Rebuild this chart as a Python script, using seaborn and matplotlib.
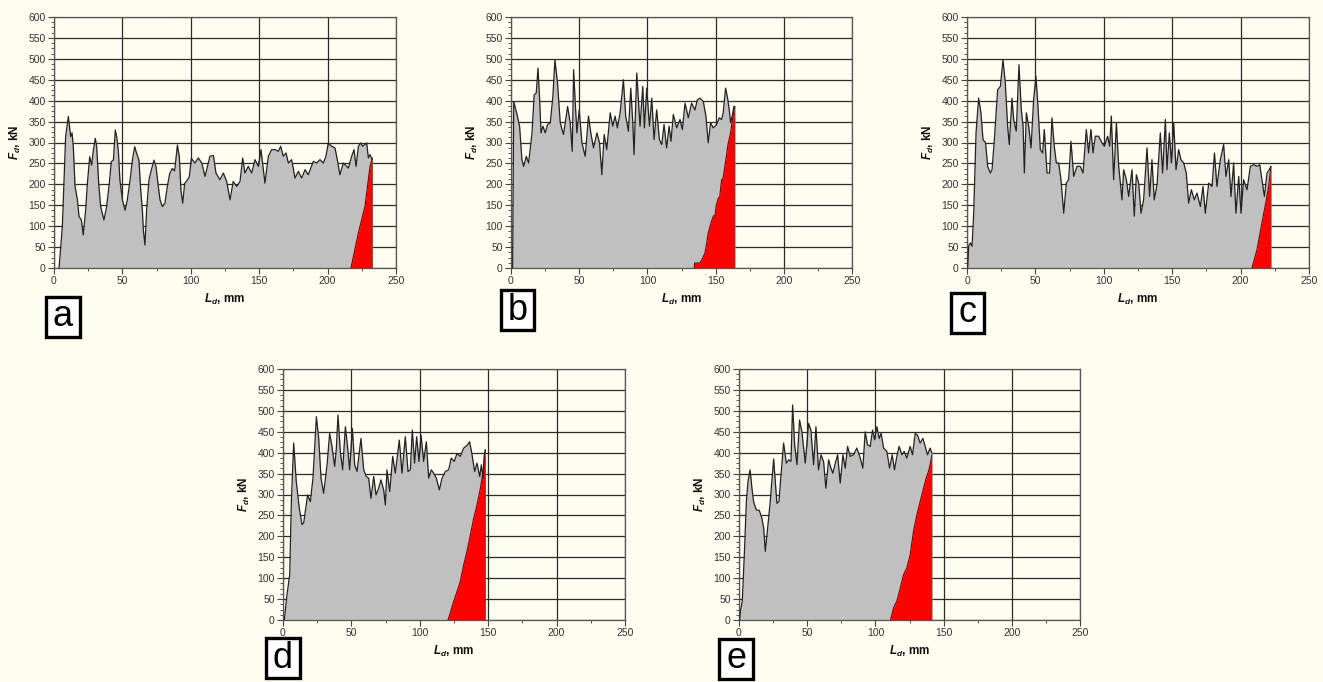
import numpy as np
import pandas as pd
import matplotlib
matplotlib.use("Agg")
import matplotlib.pyplot as plt
from matplotlib.patches import Rectangle
from matplotlib.ticker import MultipleLocator
import seaborn as sns

# ---------------- data ----------------
a_x = [3.7, 6.1, 8.5, 10.5, 12.2, 13.2, 14.1, 15.4, 17.1, 18.3, 20, 21.4, 23.1, 24.4, 26.1, 27.5, 28.8, 30.2,
       31.2, 32.7, 34.1, 36.5, 38.5, 40.4, 41.9, 43.4, 44.8, 45.8, 47, 48.2, 50, 51.9, 53.6, 55.6, 57.3, 59,
       60.4, 62.1, 63.4, 64.6, 65.3, 66.5, 67.7, 69.4, 71.1, 73.1, 74.6, 76, 77.5, 79.2, 81.1, 82.8, 84.6,
       86.5, 88.2, 90.2, 91.6, 92.8, 94.1, 95.5, 97.5, 98.9, 100.4, 103, 105.5, 108, 110.4, 114, 116.5,
       118.4, 121.3, 123.8, 126.2, 128.7, 131, 133.5, 136, 137.9, 139.6, 142, 144.5, 146.9, 149.4, 151.3,
       154.2, 156.7, 159.1, 161.5, 164, 165.7, 167.6, 169.6, 171.3, 173.7, 176.2, 178.6, 181, 183.5, 185.9,
       189.6, 192, 194.4, 196.9, 198.8, 200.5, 203, 205.4, 207.1, 209, 211.5, 215.2, 217.6, 219.3, 220.8,
       222.5, 224.2, 225.6, 227.3, 228.6, 229.8, 231, 232.7]
a_y = [0, 99, 314, 362, 314, 323, 290, 195, 163, 123, 115, 79, 138, 202, 266, 246, 282, 310,
       290, 202, 147, 115, 147, 202, 254, 258, 330, 314, 282, 210, 163, 138, 163, 210, 258, 290,
       274, 258, 186, 138, 91, 55, 138, 210, 234, 258, 242, 202, 163, 147, 155, 194, 226,
       238, 232, 294, 266, 186, 155, 202, 210, 218, 262, 251, 263, 251, 219, 267, 269,
       227, 211, 227, 207, 163, 207, 195, 207, 263, 227, 243, 227, 259, 243, 283,
       203, 267, 283, 283, 279, 291, 267, 275, 251, 259, 215, 231, 215, 235, 223,
       255, 251, 259, 251, 267, 299, 291, 287, 259, 223, 251, 239, 267, 283, 243,
       291, 299, 291, 295, 299, 263, 271, 259]
a_red_x = [217.1, 222.5, 227.3, 231, 232.7]
a_red_y = [0, 84, 147, 243, 263]

b_x = [1.2, 2, 4.4, 6.3, 8, 9.3, 11.2, 12.9, 15.4, 17, 18.5, 19.8, 21, 22, 23.4, 25.1, 26.8, 28.8, 30.7, 32.2,
       34.1, 36.1, 38.5, 41.5, 43.4, 44.9, 45.9, 47, 48.3, 50, 52, 54.4, 56.8, 58.5, 60.5, 63, 64.9, 66.6, 68.3,
       70.2, 72.7, 74.6, 76.3, 78, 80, 82.4, 84.1, 86.1, 87.8, 89.3, 90.2, 92.2, 94.6, 96.6, 97.8, 99.5, 101.5,
       103.2, 104.9, 106.8, 108.8, 110.5, 112.2, 114.1, 115.9, 117.3, 119, 121.5, 123.9, 125.6, 127.6, 130,
       132.4, 134.9, 136.6, 138.5, 141, 142.9, 144.6, 146.3, 148.3, 150.7, 152.7, 154.4, 155.6, 157.3, 158.8,
       160, 161, 162.4, 163.4, 164.1]
b_y = [0, 398, 367, 339, 259, 243, 267, 251, 323, 414, 418, 478, 402, 323, 339, 323, 343, 347, 410, 498,
       442, 347, 319, 386, 347, 279, 474, 402, 323, 378, 299, 267, 363, 323, 287, 323, 299, 223, 319,
       283, 371, 339, 363, 335, 371, 450, 363, 327, 430, 347, 271, 466, 339, 434, 335, 430, 339,
       406, 307, 378, 307, 295, 343, 287, 339, 303, 367, 335, 355, 331, 394, 359,
       394, 378, 402, 406, 398, 363, 299, 347, 335, 343, 359, 355, 371, 430, 406,
       378, 347, 367, 386, 386]
b_red_x = [134.4, 134.6, 138.5, 140, 142.2, 143.5, 144.6, 146, 147, 148.5, 149.5, 150.5, 152, 153, 154.4,
           155.5, 156.8, 158, 159.3, 161, 162.9, 164.1]
b_red_y = [0, 12, 12, 20, 36, 60, 84, 100, 112, 125, 124, 150, 167, 170, 211,
           215, 243, 270, 299, 323, 367, 386]

c_x = [0.5, 1.2, 2.4, 3.7, 4.9, 6.6, 8.5, 10.2, 11.7, 13.6, 15.1, 17.1, 18.3, 20, 22.4, 24.4, 26.3, 28, 29.7,
       30.9, 32.9, 34.1, 36, 38, 39.7, 41, 41.9, 43.4, 45.1, 46.8, 48.7, 50.4, 51.9, 53.6, 55.3, 56.5, 58.5,
       60.4, 62.1, 63.8, 65.3, 67, 68.7, 70.7, 72.6, 74.3, 76, 78, 80.4, 82.8, 84.8, 87.2, 88.9, 90.6, 92.1,
       93.8, 96.2, 98.7, 100.4, 102.8, 104.3, 105.5, 107.2, 109.2, 110.9, 113.3, 114.5, 116.5, 118.2, 120.6,
       122.3, 123.8, 125.5, 127.2, 129.1, 131.6, 133.5, 135.2, 136.9, 138.9, 141.3, 143, 145, 146.2, 147.9,
       149.4, 151.1, 152.8, 154.7, 156.4, 158.4, 160.3, 162, 164, 166.2, 168.1, 170.6, 172.5, 174.2, 176.7,
       179.1, 180.9, 182.7, 185.2, 187.6, 189.3, 191.3, 193, 194.9, 196.6, 198.6, 200.3, 202.2, 204.7, 207.1,
       209.6, 212, 214, 215.6, 217.4, 219.3, 221, 222.2]
c_y = [0, 52, 60, 52, 131, 323, 406, 371, 307, 299, 243, 227, 235, 307, 426, 434, 498, 442, 339,
       295, 406, 355, 327, 486, 378, 339, 227, 371, 339, 287, 402, 458, 386, 283, 275, 331, 227,
       227, 359, 291, 251, 251, 211, 131, 203, 211, 303, 219, 243, 243, 227, 331, 275, 331, 275,
       315, 315, 299, 291, 315, 291, 363, 211, 347, 243, 163, 235, 211, 171, 235,
       124, 223, 203, 131, 163, 287, 171, 259, 163, 199, 323, 227, 355, 235, 323,
       251, 347, 235, 283, 259, 251, 227, 155, 187, 163, 179, 147, 195, 131, 203,
       195, 275, 195, 259, 295, 219, 259, 171, 251, 131, 219, 131, 211, 187, 243,
       247, 243, 247, 211, 171, 227, 235, 243]
c_red_x = [208.3, 212, 215.6, 218.8, 220.5, 222.2]
c_red_y = [0, 44, 108, 163, 195, 243]

d_x = [1, 2.9, 4.9, 6.1, 7.8, 9.7, 11.9, 13.9, 15.1, 16.3, 18, 20, 21.9, 24.4, 26.1, 27.8, 29.7, 32.2, 34.1,
       35.8, 37.8, 39, 40.2, 41.9, 43.6, 45.6, 47.3, 48.7, 50.7, 52.4, 54.1, 57, 59, 60.9, 62.6, 64.3, 66.3,
       68, 69.9, 71.6, 73.6, 74.8, 76, 78, 80.2, 82.1, 85, 87, 89.4, 91.4, 93.1, 94.5, 96.2, 97.7, 99.4, 100.9,
       102.8, 104.8, 106.5, 108.4, 110.1, 112.1, 114.3, 116.2, 118.7, 121.1, 123, 125.2, 127.2, 129.6, 132.1,
       135, 136.4, 138.2, 140.1, 141.8, 143.8, 145, 146.2, 147.2, 147.9]
d_y = [0, 60, 108, 283, 423, 331, 267, 228, 232, 259, 299, 283, 339, 486, 434, 339, 303, 371, 446,
       415, 367, 411, 490, 403, 359, 462, 411, 359, 458, 371, 355, 434, 359, 343, 339, 291, 343,
       299, 315, 335, 311, 275, 359, 307, 391, 351, 430, 351, 438, 355, 359, 454, 375, 438, 379, 442,
       379, 426, 339, 359, 351, 339, 311, 339, 355, 359, 387, 379, 398, 391, 411,
       419, 426, 395, 355, 375, 343, 371, 339, 395, 407]
d_red_x = [120.6, 122.3, 124.8, 127.2, 129.6, 132.1, 134.5, 137, 139.4, 141.8, 144.3, 146.2, 147.9]
d_red_y = [0, 17, 45, 68, 92, 132, 164, 204, 243, 275, 315, 355, 407]

e_x = [0.5, 1, 2.4, 3.9, 5.4, 6.6, 8.1, 9.5, 10.7, 12.7, 14.9, 16.8, 18.1, 19.3, 21, 22.9, 25.4, 26.6, 27.8,
       29.3, 30.8, 32.7, 34.7, 36.6, 38.1, 39.3, 40.8, 42.5, 44.4, 46.1, 48.6, 51, 52.7, 54.7, 56.4, 58.3,
       60.1, 62, 63.7, 65.7, 67.4, 68.8, 70.6, 72.3, 74.2, 76.2, 77.9, 79.6, 81.5, 84, 86.4, 88.9, 90.8, 92.5,
       94.2, 96.2, 97.9, 99.4, 101.1, 102.8, 104.2, 106, 108.4, 110.4, 112.3, 114, 115.7, 117.4, 119.4, 121.1,
       123, 125.5, 127.2, 129.2, 130.9, 132.8, 134.8, 136.5, 138.2, 140.1, 141.4]
e_y = [0, 21, 45, 156, 283, 331, 359, 315, 283, 263, 262, 243, 220, 164, 220, 283, 385, 331, 279,
       283, 347, 423, 375, 383, 379, 514, 419, 371, 478, 450, 375, 470, 454, 371, 462, 359,
       395, 379, 315, 383, 363, 351, 375, 395, 327, 395, 363, 415, 391, 395, 411, 387, 363, 450,
       419, 415, 454, 431, 462, 434, 446, 411, 403, 363, 395, 359, 391, 415, 395, 403,
       387, 415, 395, 446, 442, 423, 434, 415, 395, 411, 399]
e_red_x = [111.1, 113.3, 115.7, 118.2, 120.6, 123, 125.5, 127.9, 130.4, 132.8, 135.3, 137.2, 138.9, 140.1, 141.4]
e_red_y = [0, 29, 45, 76, 108, 124, 156, 212, 251, 283, 315, 339, 355, 371, 395]

panel_letters = ["a", "b", "c", "d", "e"]
x_ticks = [0, 50, 100, 150, 200, 250]
y_ticks = [0, 50, 100, 150, 200, 250, 300, 350, 400, 450, 500, 550, 600]

# ---------------- styling ----------------
sns.set_theme(style="white")
BG = "#FFFCF0"
plt.rcParams["font.family"] = ["Liberation Sans", "DejaVu Sans"]
plt.rcParams["mathtext.fontset"] = "custom"
plt.rcParams["mathtext.it"] = "Liberation Sans:italic:bold"
plt.rcParams["mathtext.rm"] = "Liberation Sans:bold"
plt.rcParams["mathtext.bf"] = "Liberation Sans:bold"

W, H = 1323, 682
fig = plt.figure(figsize=(W / 100, H / 100), dpi=100, facecolor=BG)

# axes rectangles in pixel coordinates: (left, top, right, bottom)
boxes = [(54, 17, 396, 268), (511, 17, 852, 268), (967, 17, 1309, 268),
         (283, 369, 625, 620), (739, 369, 1080, 620)]
label_boxes = [(46, 297, 80, 337), (501, 290, 534, 330), (951, 293, 984, 333),
               (266, 638, 300, 678), (719, 639, 753, 679)]

datasets = [(a_x, a_y, a_red_x, a_red_y), (b_x, b_y, b_red_x, b_red_y), (c_x, c_y, c_red_x, c_red_y),
            (d_x, d_y, d_red_x, d_red_y), (e_x, e_y, e_red_x, e_red_y)]

for (l, t, r, b), (xs, ys, rx, ry), lb, letter in zip(boxes, datasets, label_boxes, panel_letters):
    ax = fig.add_axes([l / W, 1 - b / H, (r - l) / W, (b - t) / H])
    ax.set_facecolor(BG)
    df = pd.DataFrame({"L": xs, "F": ys})
    dr = pd.DataFrame({"L": rx, "F": ry})
    ax.fill_between(df["L"], 0, df["F"], color="#C0C0C0", lw=0, zorder=2)
    ax.fill_between(dr["L"], 0, dr["F"], color="#FF0000", lw=0, zorder=3)
    sns.lineplot(data=df, x="L", y="F", ax=ax, color="#222222", lw=0.9, estimator=None, sort=False,
                 zorder=4, solid_joinstyle="round")
    sns.lineplot(data=dr, x="L", y="F", ax=ax, color="#222222", lw=0.8, estimator=None, sort=False,
                 zorder=4, solid_joinstyle="round")
    ax.set_xlim(0, 250)
    ax.set_ylim(0, 600)
    ax.set_xticks(x_ticks)
    ax.set_yticks(y_ticks)
    ax.xaxis.set_minor_locator(MultipleLocator(25))
    ax.yaxis.set_minor_locator(MultipleLocator(12.5))
    ax.grid(True, which="major", color="#2a2a2a", lw=0.9, zorder=1)
    ax.set_axisbelow(True)
    ax.tick_params(which="major", direction="out", length=4, width=0.8, color="#444444",
                   labelsize=7.5, labelcolor="#333333", pad=2, left=True, bottom=True)
    ax.tick_params(which="minor", direction="out", length=2.5, width=0.7, color="#555555",
                   left=True, bottom=True)
    for s in ax.spines.values():
        s.set_color("#555555")
        s.set_linewidth(0.9)
    ax.set_xlabel(r"$L_d$, mm", fontsize=8.5, fontweight="bold", labelpad=4, color="#111111")
    ax.set_ylabel(r"$F_d$, kN", fontsize=8.5, fontweight="bold", labelpad=4, color="#111111")

    bl, bt, br, bb = lb
    fig.patches.append(Rectangle((bl / W, 1 - bb / H), (br - bl) / W, (bb - bt) / H,
                                 transform=fig.transFigure, facecolor="white",
                                 edgecolor="black", lw=2.4, zorder=5))
    fig.text((bl + br) / 2 / W, 1 - (bt + bb) / 2 / H, letter, ha="center", va="center",
             fontsize=26, color="black", zorder=6)

fig.savefig("out.png", dpi=100, facecolor=BG)
